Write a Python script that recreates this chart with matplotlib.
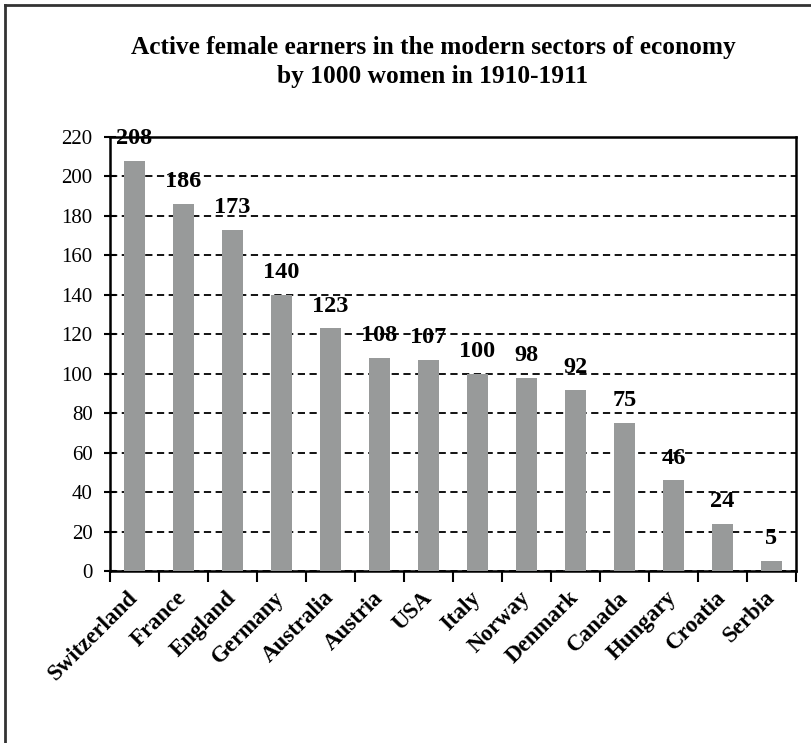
"""
Active female earners in the modern sectors of economy, 1910-1911
Bar chart recreated in matplotlib
"""

import numpy as np
import matplotlib.pyplot as plt
from matplotlib.lines import Line2D

# ---------------------------------------------
# DATA
# ---------------------------------------------
countries = ["Switzerland", "France", "England", "Germany", "Australia", "Austria",
             "USA", "Italy", "Norway", "Denmark", "Canada", "Hungary", "Croatia", "Serbia"]
earners = [208, 186, 173, 140, 123, 108, 107, 100, 98, 92, 75, 46, 24, 5]
y_ticks = [0, 20, 40, 60, 80, 100, 120, 140, 160, 180, 200, 220]

title_lines = ["Active female earners in the modern sectors of economy",
               "by 1000 women in 1910-1911"]

BAR_COLOR = "#989a9a"
FONT = ["Liberation Serif", "DejaVu Serif"]

plt.rcParams["font.family"] = FONT

# ---------------------------------------------
# FIGURE
# ---------------------------------------------
W, H = 812, 743
fig = plt.figure(figsize=(W / 100, H / 100), dpi=100)
ax = fig.add_axes([110 / W, 1 - 571 / H, (796 - 110) / W, (571 - 137) / H])

x = np.arange(len(countries))
ax.bar(x, earners, width=0.43, color=BAR_COLOR, zorder=3)

# value labels above bars
for xi, v in zip(x, earners):
    ax.annotate(str(v), (xi, v), xytext=(0, 12), textcoords="offset points",
                ha="center", va="baseline", fontsize=17.5, fontweight="bold",
                zorder=5, annotation_clip=False)

ax.set_xlim(-0.5, len(countries) - 0.5)
ax.set_ylim(0, 220)

# y axis
ax.set_yticks(y_ticks)
ax.set_yticklabels([str(t) for t in y_ticks], fontsize=15)
ax.tick_params(axis="y", direction="inout", length=9, width=1.5, pad=8)
ax.yaxis.grid(True, linestyle=(0, (4, 2.5)), color="black", linewidth=1.3, zorder=1)
ax.set_axisbelow(True)

# x axis: labels at centres, tick marks between categories
ax.set_xticks(x)
ax.set_xticklabels(countries, rotation=45, ha="right", va="center",
                   rotation_mode="anchor", fontsize=16.5, fontweight="bold")
ax.tick_params(axis="x", which="major", length=0, pad=17)
ax.set_xticks(np.arange(-0.5, len(countries) + 0.5, 1), minor=True)
ax.tick_params(axis="x", which="minor", direction="out", length=8, width=1.5)

for s in ax.spines.values():
    s.set_linewidth(1.8)
    s.set_color("black")

# title, two lines placed by baseline
for line, base_px in zip(title_lines, [54, 83]):
    fig.text(433 / W, 1 - base_px / H, line, ha="center", va="baseline",
             fontsize=18.3, fontweight="bold")

# outer chart frame (only top and left edges are visible in the crop)
fig.add_artist(Line2D([5 / W, 5 / W], [0, 1 - 5 / H], transform=fig.transFigure,
                      color="#333333", linewidth=2))
fig.add_artist(Line2D([5 / W, 1], [1 - 5 / H, 1 - 5 / H], transform=fig.transFigure,
                      color="#333333", linewidth=2))

plt.savefig("out.png", dpi=100)
